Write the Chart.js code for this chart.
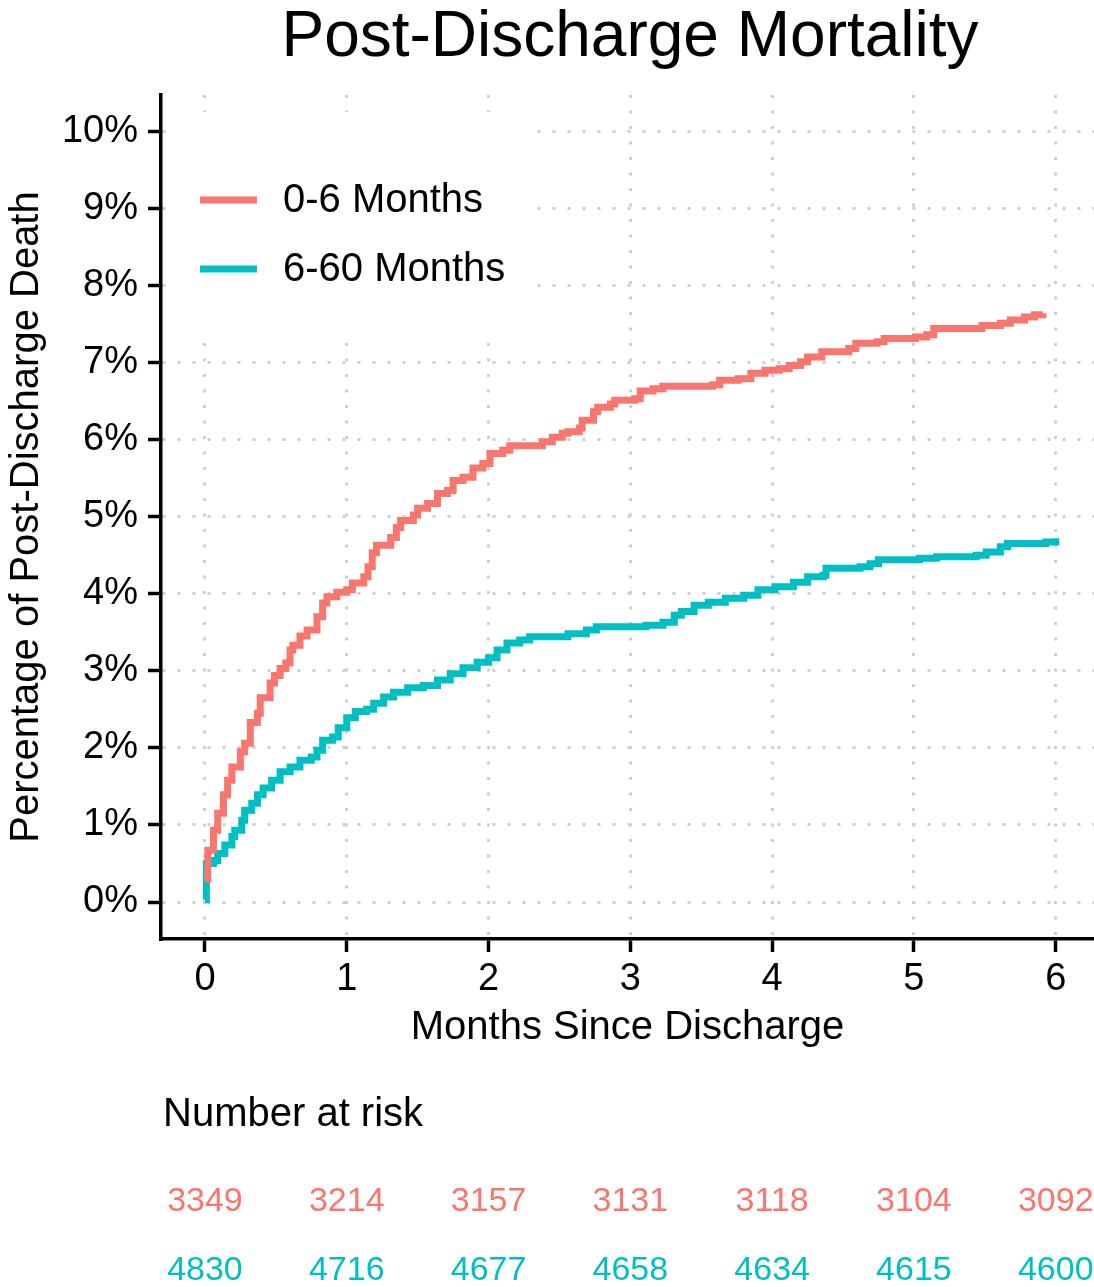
<!DOCTYPE html>
<html>
<head>
<meta charset="utf-8">
<script src="https://cdn.jsdelivr.net/npm/chart.js@4/dist/chart.umd.min.js"></script>
<style>
  body { margin: 0; background: #fff; }
  #wrap { width: 1094px; height: 1287px; }
</style>
</head>
<body>
<div id="wrap"><canvas id="kmChart" width="1094" height="1287"></canvas></div>
<script>
// values
const groupNames = ['0-6 Months', '6-60 Months'];
const groupColors = ['#F8766D', '#00BFC4'];

const redMonths = [0, 0.02, 0.06, 0.09, 0.13, 0.16, 0.19, 0.25, 0.28, 0.32, 0.37, 0.39, 0.46, 0.49, 0.53, 0.57, 0.6, 0.62, 0.67, 0.72, 0.79, 0.83, 0.86, 0.93, 1.0, 1.04, 1.12, 1.15, 1.18, 1.21, 1.31, 1.35, 1.38, 1.47, 1.5, 1.57, 1.64, 1.71, 1.75, 1.82, 1.89, 1.96, 2.01, 2.1, 2.15, 2.38, 2.45, 2.52, 2.56, 2.64, 2.66, 2.74, 2.77, 2.86, 2.89, 3.03, 3.07, 3.16, 3.23, 3.58, 3.63, 3.76, 3.85, 3.95, 4.05, 4.12, 4.2, 4.25, 4.35, 4.54, 4.59, 4.74, 4.79, 5.01, 5.09, 5.14, 5.48, 5.61, 5.68, 5.78, 5.85, 5.91];
const redPct = [0.3, 0.67, 0.93, 1.15, 1.39, 1.58, 1.75, 1.95, 2.06, 2.33, 2.45, 2.65, 2.84, 2.94, 3.03, 3.1, 3.27, 3.33, 3.45, 3.53, 3.7, 3.88, 3.96, 4.02, 4.05, 4.14, 4.22, 4.35, 4.53, 4.63, 4.73, 4.86, 4.95, 5.02, 5.11, 5.17, 5.3, 5.34, 5.47, 5.51, 5.63, 5.69, 5.82, 5.86, 5.92, 5.97, 6.03, 6.08, 6.1, 6.15, 6.25, 6.36, 6.42, 6.46, 6.51, 6.53, 6.63, 6.66, 6.69, 6.71, 6.77, 6.79, 6.86, 6.9, 6.92, 6.96, 7.01, 7.07, 7.14, 7.18, 7.25, 7.27, 7.31, 7.33, 7.36, 7.44, 7.48, 7.51, 7.55, 7.59, 7.62, 7.64];

const tealMonths = [0, 0.01, 0.06, 0.09, 0.14, 0.19, 0.21, 0.26, 0.28, 0.33, 0.37, 0.41, 0.47, 0.53, 0.6, 0.67, 0.75, 0.79, 0.83, 0.9, 0.94, 1.0, 1.06, 1.14, 1.19, 1.26, 1.33, 1.43, 1.54, 1.64, 1.73, 1.82, 1.92, 2.0, 2.06, 2.13, 2.22, 2.29, 2.56, 2.69, 2.76, 3.11, 3.23, 3.31, 3.36, 3.45, 3.55, 3.67, 3.8, 3.9, 4.02, 4.15, 4.25, 4.36, 4.38, 4.62, 4.69, 4.75, 5.04, 5.16, 5.44, 5.51, 5.61, 5.66, 5.93, 6.0];
const tealPct = [0.03, 0.5, 0.54, 0.63, 0.74, 0.85, 0.93, 1.06, 1.19, 1.28, 1.39, 1.48, 1.58, 1.69, 1.75, 1.84, 1.88, 1.97, 2.1, 2.14, 2.26, 2.39, 2.47, 2.5, 2.58, 2.66, 2.72, 2.78, 2.81, 2.88, 2.96, 3.04, 3.11, 3.17, 3.27, 3.36, 3.4, 3.44, 3.48, 3.53, 3.57, 3.59, 3.63, 3.72, 3.77, 3.85, 3.89, 3.94, 3.98, 4.05, 4.09, 4.15, 4.22, 4.24, 4.33, 4.35, 4.39, 4.44, 4.46, 4.48, 4.5, 4.54, 4.61, 4.65, 4.67, 4.72];

const xTickValues = [0, 1, 2, 3, 4, 5, 6];
const yTickValues = [0, 1, 2, 3, 4, 5, 6, 7, 8, 9, 10];

const riskRed = [3349, 3214, 3157, 3131, 3118, 3104, 3092];
const riskTeal = [4830, 4716, 4677, 4658, 4634, 4615, 4600];

const FONT = "'Liberation Sans', Arial, sans-serif";

function toPoints(xs, ys) {
  return xs.map((x, i) => ({ x: x, y: ys[i] }));
}

// title, legend box and risk table, drawn by hand
const extras = {
  id: 'extras',
  beforeDatasetsDraw(chart) {
    const ctx = chart.ctx;
    ctx.save();
    ctx.fillStyle = '#fff';
    ctx.fillRect(168, 112, 362, 223);
    const rows = [200, 269];
    groupNames.forEach((name, i) => {
      ctx.strokeStyle = groupColors[i];
      ctx.lineWidth = 7;
      ctx.beginPath();
      ctx.moveTo(200, rows[i]);
      ctx.lineTo(257, rows[i]);
      ctx.stroke();
      ctx.fillStyle = '#000';
      ctx.font = '40px ' + FONT;
      ctx.textBaseline = 'middle';
      ctx.textAlign = 'left';
      ctx.fillText(name, 283, rows[i] + 1);
    });
    ctx.restore();
  },
  afterDraw(chart) {
    const ctx = chart.ctx;
    const xs = chart.scales.x;
    ctx.save();
    ctx.fillStyle = '#000';
    ctx.font = '64px ' + FONT;
    ctx.textAlign = 'center';
    ctx.textBaseline = 'alphabetic';
    ctx.fillText('Post-Discharge Mortality', 630, 56);

    ctx.font = '40px ' + FONT;
    ctx.textAlign = 'left';
    ctx.textBaseline = 'middle';
    ctx.fillText('Number at risk', 163, 1115);

    ctx.font = '34px ' + FONT;
    ctx.textAlign = 'center';
    [[riskRed, 1202], [riskTeal, 1271]].forEach(([vals, y], g) => {
      ctx.fillStyle = groupColors[g];
      vals.forEach((v, i) => {
        ctx.fillText(String(v), xs.getPixelForValue(xTickValues[i]), y);
      });
    });
    ctx.restore();
  }
};

new Chart(document.getElementById('kmChart'), {
  type: 'line',
  data: {
    datasets: [
      {
        label: groupNames[0],
        data: toPoints(redMonths, redPct),
        borderColor: groupColors[0],
        borderWidth: 7,
        stepped: 'before',
        pointRadius: 0,
        fill: false
      },
      {
        label: groupNames[1],
        data: toPoints(tealMonths, tealPct),
        borderColor: groupColors[1],
        borderWidth: 7,
        stepped: 'before',
        pointRadius: 0,
        fill: false
      }
    ]
  },
  options: {
    responsive: false,
    animation: false,
    layout: { padding: { top: 95, left: 0, right: 0, bottom: 235 } },
    plugins: {
      legend: { display: false },
      title: { display: false },
      tooltip: { enabled: false }
    },
    scales: {
      x: {
        type: 'linear',
        min: -0.31,
        max: 6.27,
        afterBuildTicks: (s) => { s.ticks = xTickValues.map(v => ({ value: v })); },
        afterFit: (s) => { s.height = 113; },
        grid: {
          color: '#d0d0d0',
          lineWidth: 3,
          tickColor: '#000',
          tickWidth: 3.5,
          tickLength: 13,
          tickBorderDash: []
        },
        border: { display: true, color: '#000', width: 3.5, dash: [3, 12.5] },
        ticks: {
          color: '#000',
          padding: 5,
          font: { family: FONT, size: 38 },
          maxRotation: 0
        },
        title: {
          display: true,
          text: 'Months Since Discharge',
          color: '#000',
          font: { family: FONT, size: 40 },
          padding: 0
        }
      },
      y: {
        type: 'linear',
        min: -0.48,
        max: 10.47,
        afterBuildTicks: (s) => { s.ticks = yTickValues.map(v => ({ value: v })); },
        afterFit: (s) => { s.width = 161; },
        grid: {
          color: '#d0d0d0',
          lineWidth: 3,
          tickColor: '#000',
          tickWidth: 3.5,
          tickLength: 13,
          tickBorderDash: []
        },
        border: { display: true, color: '#000', width: 3.5, dash: [3, 12] },
        ticks: {
          color: '#000',
          padding: 10,
          font: { family: FONT, size: 38 },
          callback: (v) => v + '%'
        },
        title: {
          display: true,
          text: 'Percentage of Post-Discharge Death',
          color: '#000',
          font: { family: FONT, size: 40 },
          padding: { top: 3, bottom: 0 }
        }
      }
    }
  },
  plugins: [extras]
});
</script>
</body>
</html>
